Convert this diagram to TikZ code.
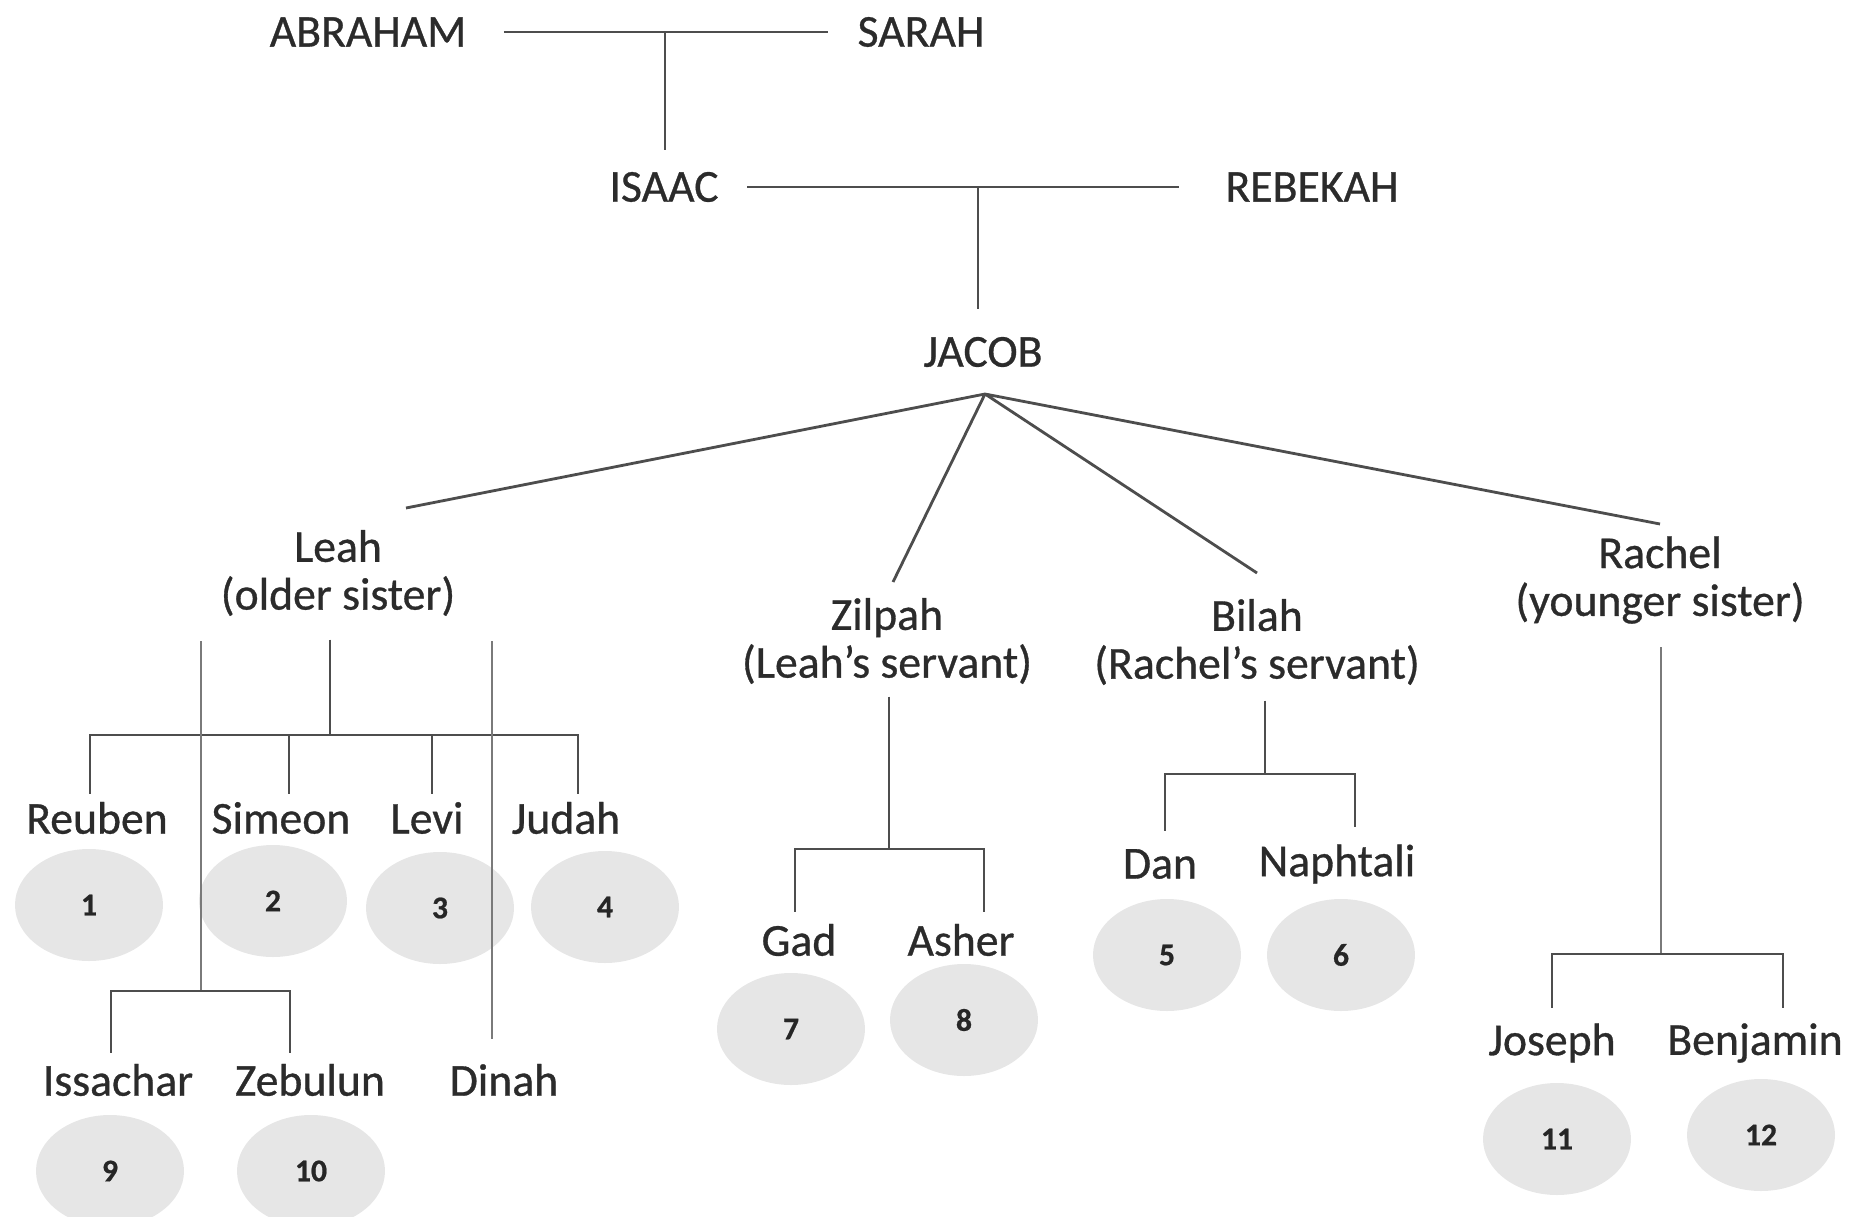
\documentclass[tikz,border=0pt]{standalone}
\usepackage{fontspec}
\setmainfont{Carlito}[FakeBold=0.7]
\usetikzlibrary{shapes.geometric,positioning,calc}
\definecolor{ink}{HTML}{2B2B2B}
\definecolor{wire}{HTML}{4D4D4D}
\definecolor{faint}{HTML}{7A7A7A}
\definecolor{disc}{HTML}{E6E6E6}
\tikzset{
  every node/.style={font=\fontsize{13}{13.6}\selectfont, text=ink},
  person/.style={inner sep=0pt, align=center},
  tribe/.style={ellipse, fill=disc, minimum width=14.8mm, minimum height=11.2mm, inner sep=0pt, font=\fontsize{9}{10}\selectfont\bfseries, text=black!85},
  link/.style={draw=wire, line width=0.8pt},
  faintlink/.style={draw=faint, line width=0.75pt},
}
\begin{document}
\begin{tikzpicture}[x=0.1mm,y=-0.1mm]
\useasboundingbox (0,0) rectangle (1854,1217);
\foreach \n/\x/\y in {1/89/905,2/273/901,3/440/908,4/605/907,5/1167/955,6/1341/955,7/791/1029,8/964/1020,9/110/1171,10/311/1171,11/1557/1139,12/1761/1135}
  \node[tribe] (t\n) at (\x,\y) {\n};
\node[person] (abraham) at (368,32) {ABRAHAM};
\node[person] (sarah) at (921,32) {SARAH};
\node[person] (isaac) at (664,187) {ISAAC};
\node[person] (rebekah) at (1312,187) {REBEKAH};
\node[person] (jacob) at (983,352) {JACOB};
\node[person] (leah) at (338,573) {Leah\\(older sister)};
\node[person] (zilpah) at (887,641) {Zilpah\\(Leah’s servant)};
\node[person] (bilah) at (1257,642) {Bilah\\(Rachel’s servant)};
\node[person] (rachel) at (1660,580) {Rachel\\(younger sister)};
\node[person] (reuben) at (97,818) {Reuben};
\node[person] (simeon) at (281,818) {Simeon};
\node[person] (levi) at (427,818) {Levi};
\node[person] (judah) at (566,818) {Judah};
\node[person] (issachar) at (118,1080) {Issachar};
\node[person] (zebulun) at (310,1080) {Zebulun};
\node[person] (dinah) at (504,1080) {Dinah};
\node[person] (gad) at (799,940) {Gad};
\node[person] (asher) at (961,940) {Asher};
\node[person] (dan) at (1160,864) {Dan};
\node[person] (naphtali) at (1337,864) {Naphtali};
\node[person] (joseph) at (1552,1043) {Joseph};
\node[person] (benjamin) at (1755,1043) {Benjamin};
\coordinate (abj) at (665,32);
\coordinate (irj) at (978,187);
\coordinate (jfoot) at (985,394);
\coordinate (leahtip) at (406,508);
\coordinate (zilpahtip) at (893,582);
\coordinate (bilahtip) at (1257,573);
\coordinate (racheltip) at (1660,524);
\coordinate (leahbar) at (330,735);
\coordinate (leahleft) at (201,641);
\coordinate (leahfork) at (201,991);
\coordinate (leahright) at (492,641);
\coordinate (zilpahbar) at (889,849);
\coordinate (bilahbar) at (1265,774);
\coordinate (rachelbar) at (1661,954);
\draw[link, shorten <=3.7mm, shorten >=2.9mm] (abraham) -- (sarah);
\draw[link, shorten >=2.1mm] (abj) -- (abj |- isaac.north);
\draw[link, shorten <=2.8mm, shorten >=4.6mm] (isaac) -- (rebekah);
\draw[link, shorten >=2.7mm] (irj) -- (irj |- jacob.north);
\draw[link] (jfoot) -- (leahtip) (jfoot) -- (zilpahtip) (jfoot) -- (bilahtip) (jfoot) -- (racheltip);
\draw[link, shorten <=2.3mm] (leah.south -| leahbar) -- (leahbar);
\draw[link, shorten >=0.7mm] (leahbar) -| ([xshift=-0.7mm]reuben.north);
\draw[link, shorten >=0.7mm] (leahbar) -| ([xshift=0.8mm]simeon.north);
\draw[link, shorten >=0.7mm] (leahbar) -| ([xshift=0.5mm]levi.north);
\draw[link, shorten >=0.7mm] (leahbar) -| ([xshift=1.2mm]judah.north);
\draw[faintlink] (leahleft) -- (leahfork);
\draw[link, shorten >=1mm] (leahfork) -| ([xshift=-0.7mm]issachar.north);
\draw[link, shorten >=1mm] (leahfork) -| ([xshift=-2mm]zebulun.north);
\draw[faintlink, shorten >=2.4mm] (leahright) -- (leahright |- dinah.north);
\draw[link, shorten <=1.2mm] (zilpah.south -| zilpahbar) -- (zilpahbar);
\draw[link, shorten >=1.1mm] (zilpahbar) -| ([xshift=-0.4mm]gad.north);
\draw[link, shorten >=1.1mm] (zilpahbar) -| ([xshift=2.3mm]asher.north);
\draw[link, shorten <=1.5mm] (bilah.south -| bilahbar) -- (bilahbar);
\draw[link, shorten >=1.7mm] (bilahbar) -| ([xshift=0.5mm]dan.north);
\draw[link, shorten >=1.7mm] (bilahbar) -| ([xshift=1.8mm]naphtali.north);
\draw[link, draw=faint, shorten <=2.3mm] (rachel.south -| rachelbar) -- (rachelbar);
\draw[link, shorten >=1.5mm] (rachelbar) -| (joseph.north);
\draw[link, shorten >=1.5mm] (rachelbar) -| ([xshift=2.8mm]benjamin.north);
\end{tikzpicture}
\end{document}
